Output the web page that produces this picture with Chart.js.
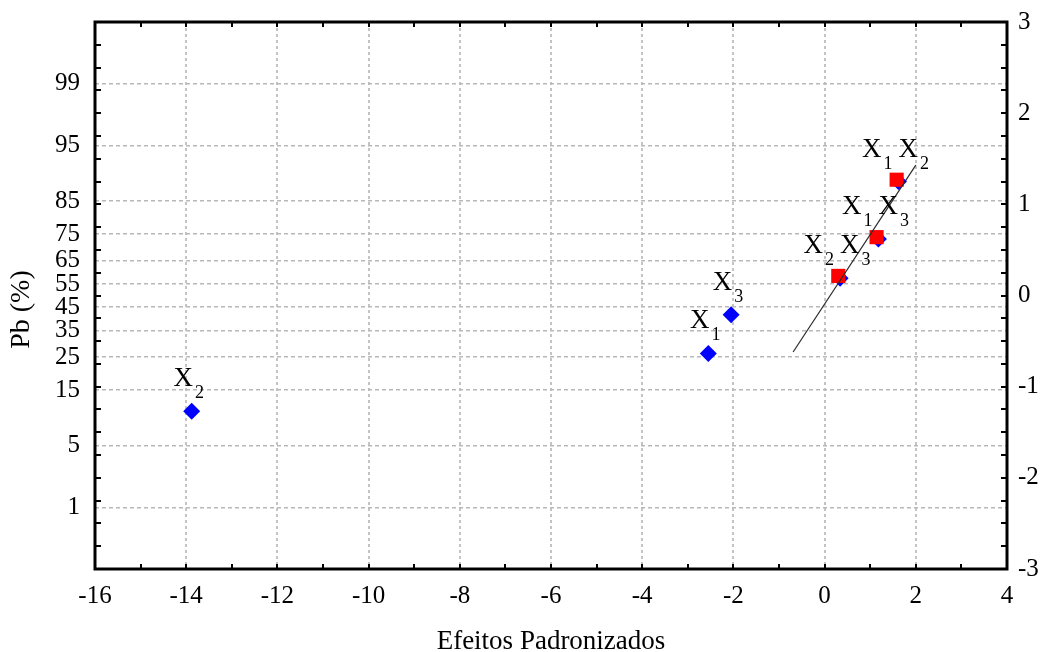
<!DOCTYPE html>
<html>
<head>
<meta charset="utf-8">
<script src="https://cdn.jsdelivr.net/npm/chart.js@4.4.1/dist/chart.umd.min.js"></script>
<style>
  html, body { margin: 0; padding: 0; background: #fff; }
  #wrap { width: 1046px; height: 652px; }
</style>
</head>
<body>
<div id="wrap"><canvas id="myChart" width="1046" height="652"></canvas></div>
<script>
// efeitos padronizados (x) e valor normal esperado (eixo direito)
const effNames = ['X2', 'X1', 'X3', 'X2X3', 'X1X3', 'X1X2'];
const effX = [-13.88, -2.55, -2.05, 0.34, 1.18, 1.62];
const effZ = [-1.27, -0.635, -0.21, 0.19, 0.62, 1.25];

// interacoes (quadrados vermelhos)
const intX = [0.30, 1.14, 1.58];
const intZ = [0.215, 0.64, 1.27];

// reta de referencia
const lineX = [-0.69, 2.0];
const lineZ = [-0.62, 1.43];

// eixo esquerdo: probabilidade (%) e posicao normal correspondente
const pbLabels = [1, 5, 15, 25, 35, 45, 55, 65, 75, 85, 95, 99];
const pbZ = [-2.326, -1.645, -1.036, -0.674, -0.385, -0.126, 0.126, 0.385, 0.674, 1.036, 1.645, 2.326];

const serif = "'Liberation Serif', 'Times New Roman', serif";

function pts(xs, ys) {
    return xs.map((x, i) => ({ x: x, y: ys[i] }));
}

// tira o espaco extra que o Chart.js reserva para meio rotulo
function noPad(s) {
    s.paddingTop = 0;
    s.paddingBottom = 0;
    s.paddingLeft = 0;
    s.paddingRight = 0;
}

// moldura, marcas internas e rotulos X com subscrito
const framePlugin = {
    id: 'frame',
    afterDatasetsDraw(chart) {
        const { ctx, chartArea: a, scales } = chart;
        ctx.save();
        ctx.strokeStyle = '#000';
        ctx.lineWidth = 2;
        ctx.beginPath();
        for (let v = scales.x.min; v <= scales.x.max; v++) {
            let px = Math.round(scales.x.getPixelForValue(v));
            ctx.moveTo(px, a.bottom); ctx.lineTo(px, a.bottom - 5);
            ctx.moveTo(px, a.top); ctx.lineTo(px, a.top + 5);
        }
        for (let z = scales.y2.min; z <= scales.y2.max; z += 0.25) {
            let py = Math.round(scales.y2.getPixelForValue(z));
            ctx.moveTo(a.left, py); ctx.lineTo(a.left + 6, py);
            ctx.moveTo(a.right, py); ctx.lineTo(a.right - 6, py);
        }
        ctx.stroke();
        ctx.lineWidth = 3;
        ctx.strokeRect(a.left, a.top, a.right - a.left, a.bottom - a.top);

        // rotulos
        const bigFont = '27px ' + serif;
        const subFont = '18px ' + serif;
        ctx.fillStyle = '#000';
        ctx.textBaseline = 'alphabetic';
        ctx.textAlign = 'left';
        effNames.forEach(function (name, i) {
            let parts = name.match(/X\d/g);
            ctx.font = bigFont;
            let wX = ctx.measureText('X').width;
            ctx.font = subFont;
            let wS = ctx.measureText('0').width;
            let gap = 6;
            let total = parts.length * (wX + 2 + wS) + (parts.length - 1) * gap;
            let cx = scales.x.getPixelForValue(effX[i]) - 3;
            let by = scales.y2.getPixelForValue(effZ[i]) - 25;
            let sx = cx - total / 2;
            parts.forEach(function (p) {
                ctx.font = bigFont;
                ctx.fillText('X', sx, by);
                sx += wX + 2;
                ctx.font = subFont;
                ctx.fillText(p[1], sx, by + 12);
                sx += wS + gap;
            });
        });
        ctx.restore();
    }
};

let ctx = document.getElementById('myChart').getContext('2d');
let chart = new Chart(ctx, {
    type: 'scatter',
    data: {
        datasets: [
            {
                type: 'line',
                data: pts(lineX, lineZ),
                borderColor: '#2a2a2a',
                borderWidth: 1.2,
                pointRadius: 0,
                yAxisID: 'y2'
            },
            {
                data: pts(intX, intZ),
                pointStyle: 'rect',
                pointRadius: 10,
                backgroundColor: '#ff0000',
                borderColor: '#ff0000',
                borderWidth: 0,
                yAxisID: 'y2'
            },
            {
                data: pts(effX, effZ),
                pointStyle: 'rectRot',
                pointRadius: 8.5,
                backgroundColor: '#0000ff',
                borderColor: '#0000ff',
                borderWidth: 0,
                yAxisID: 'y2'
            }
        ]
    },
    options: {
        responsive: false,
        animation: false,
        layout: { padding: { top: 22, left: 0, right: 0, bottom: 0 } },
        plugins: {
            legend: { display: false },
            tooltip: { enabled: false }
        },
        scales: {
            x: {
                type: 'linear',
                position: 'bottom',
                min: -16,
                max: 4,
                ticks: {
                    stepSize: 2,
                    color: '#000',
                    font: { family: serif, size: 25 },
                    padding: 12,
                    maxRotation: 0
                },
                grid: { color: '#c4c4c4', lineWidth: 2, drawTicks: false },
                border: { display: false, dash: [3, 3] },
                title: {
                    display: true,
                    text: 'Efeitos Padronizados',
                    color: '#000',
                    font: { family: serif, size: 27 },
                    padding: { top: 0, bottom: -6 }
                },
                afterFit: function (s) { s.height = 83; noPad(s); }
            },
            y: {
                type: 'linear',
                position: 'left',
                min: -3,
                max: 3,
                afterBuildTicks: function (s) {
                    s.ticks = pbZ.map(v => ({ value: v }));
                },
                ticks: {
                    autoSkip: false,
                    color: '#000',
                    font: { family: serif, size: 25 },
                    padding: 15,
                    callback: function (v, i) { return pbLabels[i]; }
                },
                grid: { color: '#b8b8b8', lineWidth: 1.5, drawTicks: false },
                border: { display: false, dash: [4, 3] },
                title: {
                    display: true,
                    text: 'Pb (%)    ',
                    color: '#000',
                    font: { family: serif, size: 28 },
                    padding: { top: 5, bottom: 0 }
                },
                afterFit: function (s) { s.width = 95; noPad(s); }
            },
            y2: {
                type: 'linear',
                position: 'right',
                min: -3,
                max: 3,
                ticks: {
                    stepSize: 1,
                    color: '#000',
                    font: { family: serif, size: 25 },
                    padding: 11
                },
                grid: { display: false, drawTicks: false },
                border: { display: false },
                afterFit: function (s) { s.width = 39; noPad(s); }
            }
        }
    },
    plugins: [framePlugin]
});
</script>
</body>
</html>
